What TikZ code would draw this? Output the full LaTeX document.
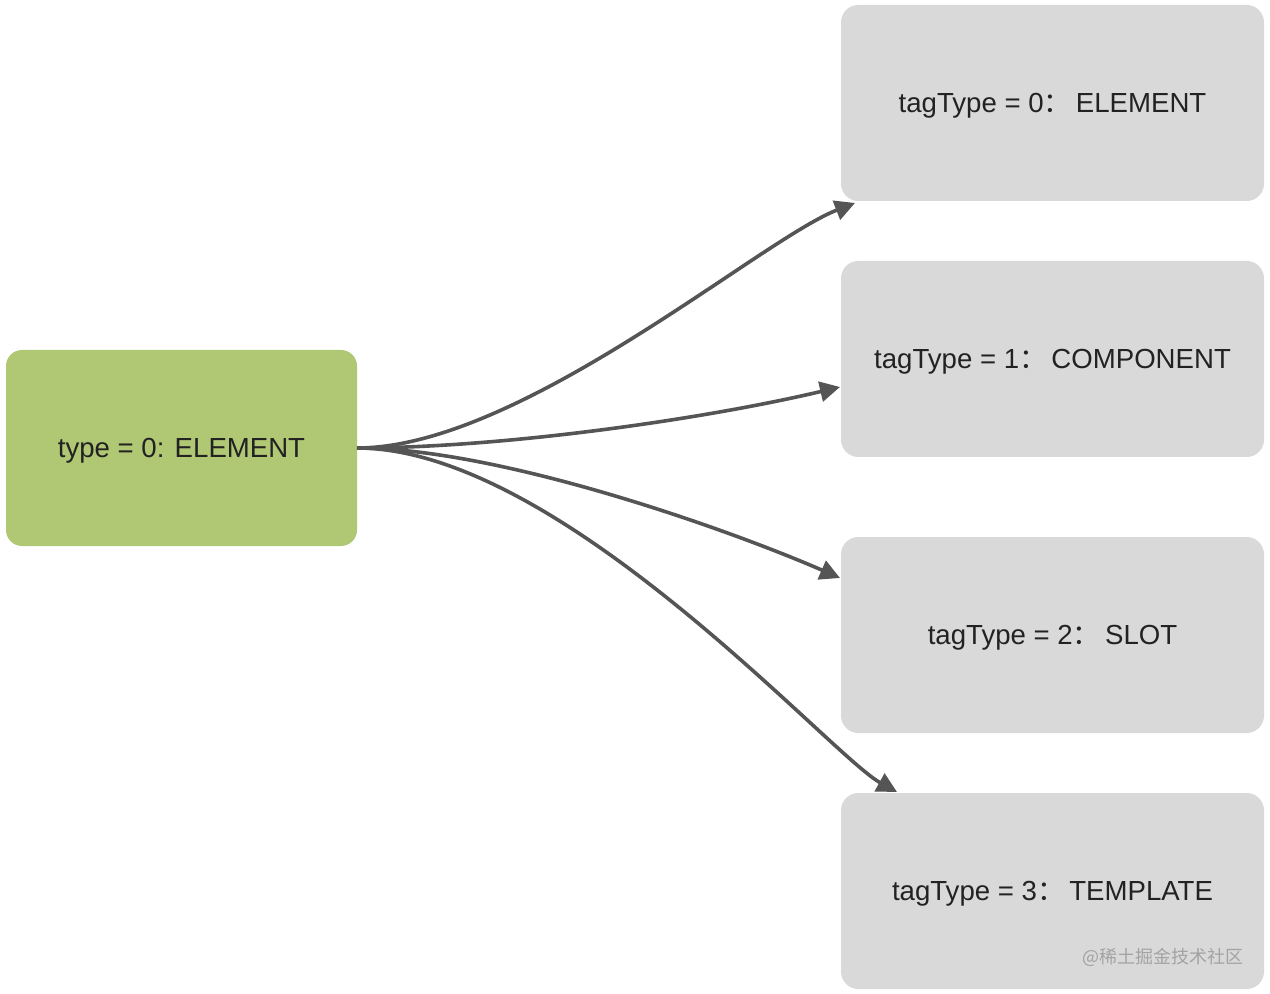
\documentclass[tikz,border=0pt]{standalone}
\usepackage{fontspec}
\setmainfont{Liberation Sans}
\newfontfamily\cjk{Noto Sans CJK SC}
\usetikzlibrary{arrows.meta}
\definecolor{greenbox}{HTML}{B0C774}
\definecolor{graybox}{HTML}{D9D9D9}
\definecolor{linec}{HTML}{555555}
\definecolor{txt}{HTML}{222222}
\definecolor{wm}{HTML}{A3A3A3}
\tikzset{
  srcbox/.style={fill=greenbox, rounded corners=12pt, minimum width=263.25pt, minimum height=147pt, inner sep=0pt, text depth=0pt, text=txt, font=\fontsize{20.7pt}{23pt}\selectfont},
  tgtbox/.style={fill=graybox, rounded corners=13pt, minimum width=317.25pt, minimum height=147pt, inner sep=0pt, text depth=0pt, text=txt, font=\fontsize{20.7pt}{23pt}\selectfont},
  link/.style={draw=linec, line width=2.7pt, -{Triangle[length=15pt,width=15pt]}},
  wmark/.style={text=wm, font=\cjk\fontsize{13.5pt}{15pt}\selectfont, inner sep=0pt}
}
\newcommand{\fwc}{{\cjk ：}\hspace{0.17em}}
\begin{document}
\begin{tikzpicture}[x=0.75pt,y=-0.75pt]
\useasboundingbox (0,0) rectangle (1270,994);
\node[srcbox] (src) at (181.5,448) {type = 0: ELEMENT};
\node[tgtbox] (b0) at (1052.5,103) {tagType = 0\fwc ELEMENT};
\node[tgtbox] (b1) at (1052.5,359) {tagType = 1\fwc COMPONENT};
\node[tgtbox] (b2) at (1052.5,635) {tagType = 2\fwc SLOT};
\node[tgtbox] (b3) at (1052.5,891) {tagType = 3\fwc TEMPLATE};
\node[wmark] (wmk) at (1163,957) {@稀土掘金技术社区};
\coordinate (s) at (357,448);
\coordinate (t0) at (855,203);
\coordinate (t1) at (840,387);
\coordinate (t2) at (840,578);
\coordinate (t3) at (897,792);
\draw[link] (s) .. controls (520,448) and (760,240) .. (t0);
\draw[link] (s) .. controls (500,448) and (700,420) .. (t1);
\draw[link] (s) .. controls (500,448) and (730,530) .. (t2);
\draw[link] (s) .. controls (560,448) and (830,755) .. (t3);
\end{tikzpicture}
\end{document}
